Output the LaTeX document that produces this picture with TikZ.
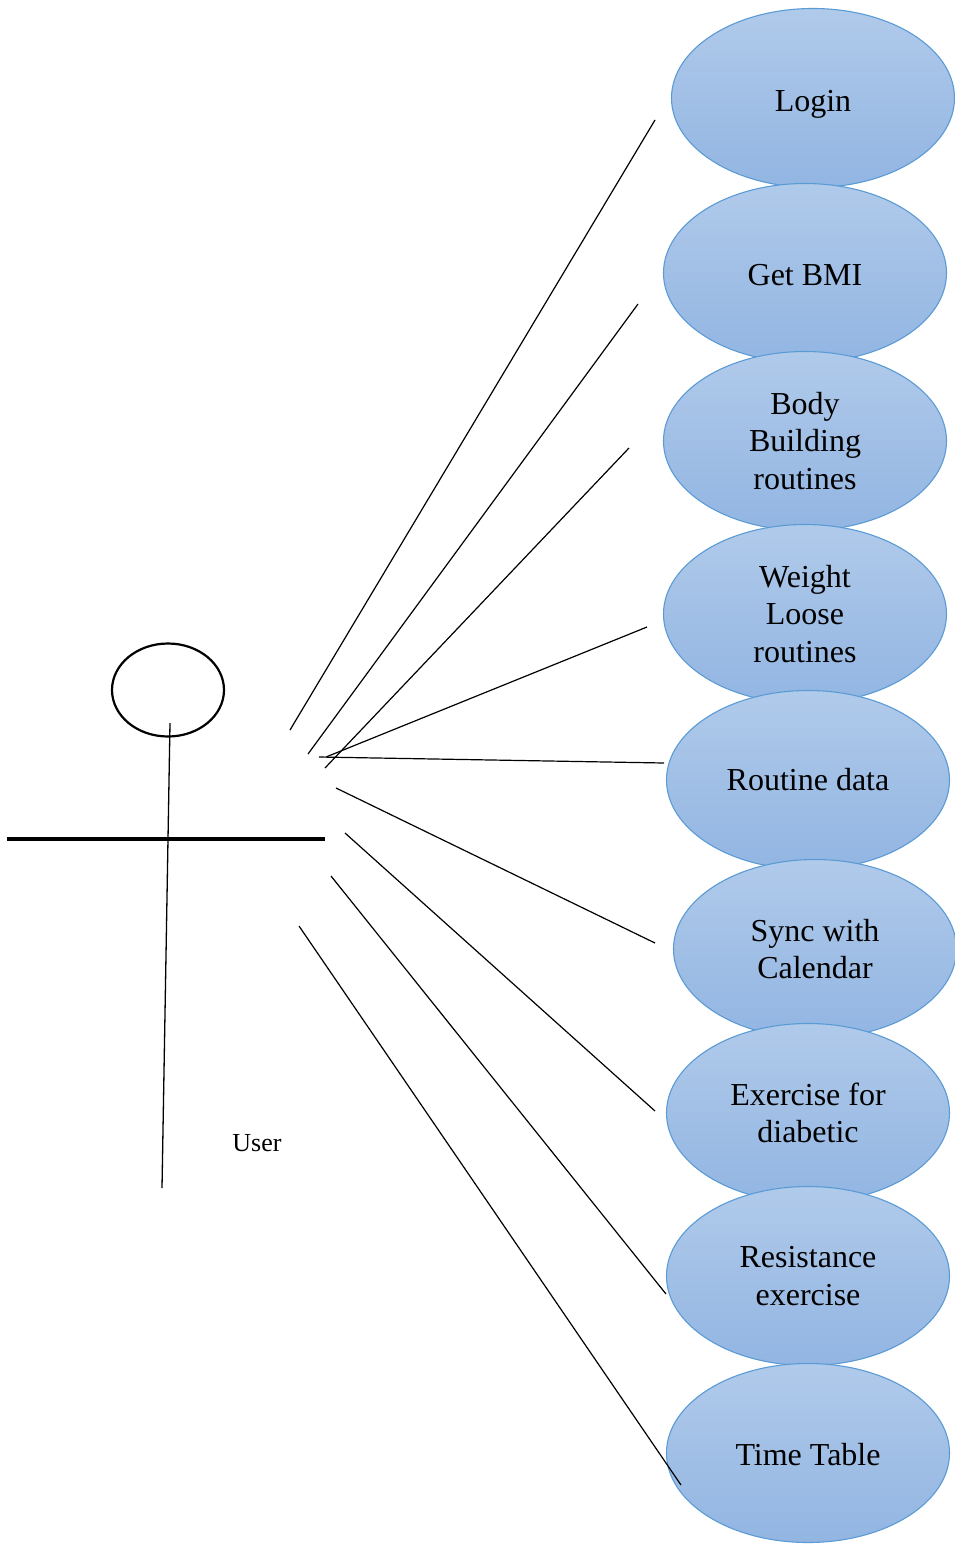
\documentclass[tikz,border=0pt]{standalone}
\usepackage{fontspec}
\setmainfont{Liberation Serif}
\usetikzlibrary{shapes.geometric}
\definecolor{ucTop}{HTML}{B0CAEA}
\definecolor{ucBot}{HTML}{92B5E2}
\definecolor{ucLine}{HTML}{5B9BD5}
\tikzset{
  usecase/.style={ellipse, draw=ucLine, line width=1.1pt, top color=ucTop, bottom color=ucBot,
    minimum width=283pt, minimum height=179pt, inner sep=0pt, align=center,
    font=\fontsize{32}{37.5}\selectfont},
  assoc/.style={line width=1.2pt, black},
}
\newcommand{\lowered}[2]{\raisebox{-#1}[\height][\depth]{#2}}
\begin{document}
\begin{tikzpicture}[x=1pt,y=-1pt]
\useasboundingbox (0,0) rectangle (955,1553);

% use cases, top to bottom (later ones overlap earlier ones)
\node[usecase] (login) at (813,98) {\lowered{6pt}{Login}};
\node[usecase] (bmi) at (805,273) {\lowered{2pt}{Get BMI}};
\node[usecase] (body) at (805,441) {Body\\Building\\routines};
\node[usecase] (weight) at (805,614) {Weight\\Loose\\routines};
\node[usecase] (routine) at (808,780) {Routine data};
\node[usecase] (sync) at (815,949) {Sync with\\Calendar};
\node[usecase] (diab) at (808,1113) {Exercise for\\diabetic};
\node[usecase] (resist) at (808,1276) {Resistance\\exercise};
\node[usecase] (time) at (808,1453) {\lowered{2pt}{Time Table}};

% actor
\node[ellipse, draw, line width=2.2pt, minimum width=112pt, minimum height=93pt, inner sep=0pt] (head) at (168,690) {};
\coordinate (neck) at (170,723);
\coordinate (foot) at (162,1188);
\coordinate (armL) at (7,839);
\coordinate (armR) at (325,839);
\draw[line width=1.3pt] (neck) -- (foot);
\draw[line width=3.8pt] (armL) -- (armR);
\node[font=\fontsize{26}{30}\selectfont] (user) at (257,1143) {User};

% association ends
\coordinate (a1) at (290,730);   \coordinate (b1) at (655,120);
\coordinate (a2) at (308,754);   \coordinate (b2) at (638,304);
\coordinate (a3) at (325,768);   \coordinate (b3) at (629,448);
\coordinate (a4) at (326,757);   \coordinate (b4) at (647,627);
\coordinate (a5) at (319,757);   \coordinate (b5) at (664,763);
\coordinate (a6) at (336,788);   \coordinate (b6) at (655,943);
\coordinate (a7) at (345,833);   \coordinate (b7) at (655,1111);
\coordinate (a8) at (331,876);   \coordinate (b8) at (666,1294);
\coordinate (a9) at (299,926);   \coordinate (b9) at (681,1485);

\foreach \i in {1,...,9} \draw[assoc] (a\i) -- (b\i);
\end{tikzpicture}
\end{document}
